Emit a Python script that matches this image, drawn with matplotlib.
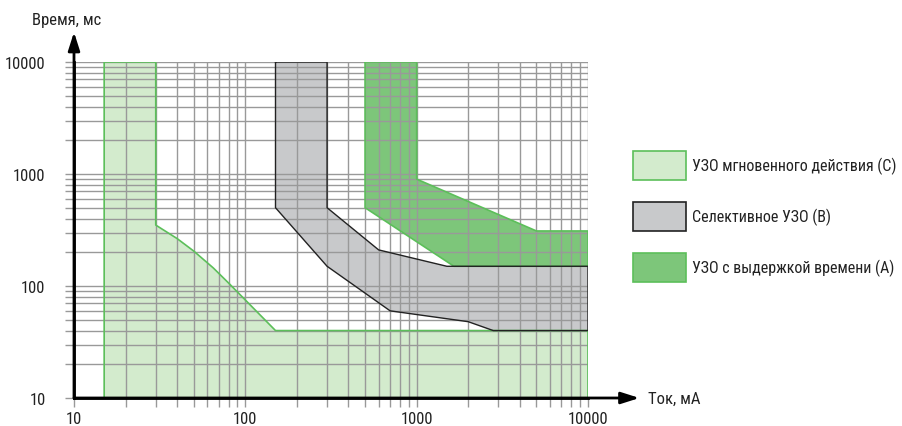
import matplotlib
matplotlib.use("Agg")
import matplotlib.pyplot as plt
from matplotlib.patches import Rectangle

plt.rcParams['font.family'] = ['Roboto Condensed', 'DejaVu Sans']

# tick values
x_ticks = [10, 100, 1000, 10000]
y_ticks = [10, 100, 1000, 10000]
x_tick_labels = ["10", "100", "1000", "10000"]
y_tick_labels = ["10", "100", "1000", "10000"]

# УЗО мгновенного действия (C)
c_x = [15, 15, 30, 30, 40, 50, 65, 80, 100, 150, 10000, 10000]
c_y = [10, 10000, 10000, 350, 265, 205, 145, 106, 75, 40, 40, 10]

# Селективное УЗО (B)
b_x = [150, 300, 300, 600, 1500, 10000, 10000, 2800, 2000, 700, 300, 150]
b_y = [10000, 10000, 500, 210, 150, 150, 40, 40, 48, 60, 150, 500]

# УЗО с выдержкой времени (A)
a_x = [500, 1000, 1000, 5000, 10000, 10000, 1650, 500]
a_y = [10000, 10000, 900, 310, 310, 150, 150, 500]

labels = ["УЗО мгновенного действия (C)", "Селективное УЗО (В)", "УЗО с выдержкой времени (А)"]
fills = ["#d3ebcd", "#c8c9cb", "#7dc67a"]
edges = ["#5cbf5a", "#222222", "#5cbf5a"]

fig = plt.figure(figsize=(9.02, 4.27), dpi=100)
ax = fig.add_axes([74 / 902, 1 - 399 / 427, 514 / 902, 336 / 427])
ax.set_xscale('log')
ax.set_yscale('log')
ax.set_xlim(10, 10000)
ax.set_ylim(10, 10000)

ax.fill(c_x, c_y, color=fills[0], lw=0, zorder=1)
ax.fill(b_x, b_y, color=fills[1], lw=0, zorder=1)
ax.fill(a_x, a_y, color=fills[2], lw=0, zorder=1)

ax.grid(True, which='both', color='#999999', lw=1, zorder=2)
ax.set_axisbelow(False)

ax.plot(c_x, c_y, color=edges[0], lw=1.2, zorder=3)
ax.plot(a_x + a_x[:1], a_y + a_y[:1], color=edges[2], lw=1.2, zorder=3)
ax.plot(b_x + b_x[:1], b_y + b_y[:1], color=edges[1], lw=1, zorder=4)

ax.set_xticks(x_ticks, x_tick_labels)
ax.set_yticks(y_ticks, y_tick_labels)
ax.tick_params(which='both', direction='out', length=6.5, width=1,
               labelsize=12, labelcolor='#222222', color='#999999')
ax.tick_params(axis='x', which='both', pad=3)
ax.tick_params(axis='y', which='both', pad=14)

for s in ['top', 'right']:
    ax.spines[s].set_visible(False)
for s in ['left', 'bottom']:
    ax.spines[s].set_color('black')
    ax.spines[s].set_linewidth(2)
    ax.spines[s].set_zorder(5)

arrow = dict(arrowstyle='-|>,head_length=1.1,head_width=0.35', color='black', lw=2,
             shrinkA=0, shrinkB=0, mutation_scale=10)
ax.annotate('', xy=(1.1, 0), xytext=(0, 0), xycoords='axes fraction',
            arrowprops=arrow, annotation_clip=False, zorder=6)
ax.annotate('', xy=(0, 1.089), xytext=(0, 0), xycoords='axes fraction',
            arrowprops=arrow, annotation_clip=False, zorder=6)

fig.text(648 / 902, 1 - 399 / 427, "Ток, мА", fontsize=12, va='center', ha='left', color='#222222')
fig.text(32 / 902, 1 - 20 / 427, "Время, мс", fontsize=12, va='center', ha='left', color='#222222')

# legend
box_top = [152, 203, 254]
for i in range(3):
    fig.patches.append(Rectangle((633 / 902, 1 - (box_top[i] + 29) / 427), 53 / 902, 29 / 427,
                                 transform=fig.transFigure, facecolor=fills[i],
                                 edgecolor=edges[i], lw=1.2))
    fig.text(692 / 902, 1 - (box_top[i] + 14.5) / 427, labels[i], fontsize=11.5,
             va='center', ha='left', color='#222222')

fig.savefig("out.png", dpi=100)
